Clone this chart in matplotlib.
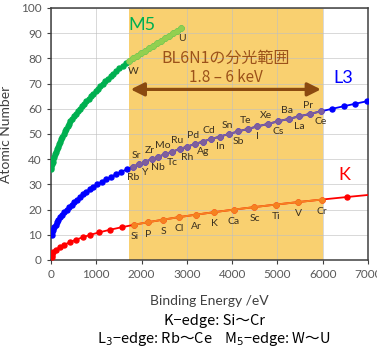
import numpy as np
import matplotlib
matplotlib.use("Agg")
import matplotlib.pyplot as plt

plt.rcParams['font.family'] = ['Lato', 'Noto Sans CJK JP', 'DejaVu Sans']

# K edge binding energies (eV), Z = 1..26
k_z = list(range(1, 27))
k_e = [13.6, 24.6, 54.7, 111.5, 188, 284.2, 409.9, 543.1, 696.7, 870.2,
       1070.8, 1303.0, 1559.6, 1839, 2145.5, 2472, 2822.4, 3205.9, 3608.4,
       4038.5, 4492, 4966, 5465, 5989, 6539, 7112]
k_labels = ["Si", "P", "S", "Cl", "Ar", "K", "Ca", "Sc", "Ti", "V", "Cr"]  # Z 14..24

# L3 edge binding energies (eV), Z = 10..64
l3_z = list(range(10, 65))
l3_e = [21.6, 30.65, 49.78, 72.72, 99.42, 135, 162.5, 200, 248.4, 294.6,
        346.2, 398.7, 453.8, 512.1, 574.1, 638.7, 706.8, 778.1, 852.7, 932.7,
        1021.8, 1116.4, 1217, 1323.6, 1433.9, 1550, 1678.4, 1804, 1940, 2080,
        2222.3, 2370.5, 2520.2, 2677, 2837.9, 3004.3, 3173.3, 3351.1, 3537.5,
        3730.1, 3928.8, 4132.2, 4341.4, 4557.1, 4786, 5011.9, 5247, 5483,
        5723, 5964, 6208, 6459, 6716, 6977, 7243]
l3_labels = ["Rb", "Sr", "Y", "Zr", "Nb", "Mo", "Tc", "Ru", "Rh", "Pd", "Ag",
             "Cd", "In", "Sn", "Sb", "Te", "I", "Xe", "Cs", "Ba", "La", "Pr", "Ce"]  # Z 37..59

# M5 curve, Z = 36..92
m5_z = list(range(36, 93))
m5_e = [0, 10, 25, 40, 55, 70, 85, 105, 125, 150, 170, 190, 220, 250, 280,
        310, 340, 370, 400, 430, 470, 510, 550, 590, 630, 680, 730, 780, 830,
        880, 930, 985, 1040, 1090, 1140, 1200, 1260, 1320, 1380, 1440, 1510,
        1580, 1650, 1720, 1810, 1900, 1990, 2080, 2170, 2250, 2330, 2420, 2510,
        2600, 2690, 2780, 2870]

fig = plt.figure(figsize=(3.77, 3.52), dpi=100)
ax = fig.add_axes([51/377, 92/352, 317/377, 252/352])

ax.axvspan(1720, 6000, color='#f9d070', lw=0, zorder=0)
ax.grid(True, color='#bfbfbf', lw=0.7, alpha=0.6, zorder=0.5)
ax.set_axisbelow(True)

ms = 3.6
lw = 1.3
# full series (outside range colour)
ax.plot(k_e, k_z, '-o', color='#ff0000', ms=ms, lw=lw, zorder=3)
ax.plot(l3_e, l3_z, '-o', color='#0000ff', ms=ms, lw=lw, zorder=3)
ax.plot(m5_e, m5_z, '-o', color='#00b050', ms=ms, lw=lw, zorder=3)
# within BL6N1 range
ax.plot(k_e[13:24], k_z[13:24], '-o', color='#f58220', ms=ms, lw=lw, zorder=4)
ax.plot(l3_e[27:50], l3_z[27:50], '-o', color='#7f5f9c', ms=ms, lw=lw, zorder=4)
ax.plot(m5_e[43:], m5_z[43:], '-o', color='#92d050', ms=ms, lw=lw, zorder=4)

lab_c = '#3a3020'
for i, name in enumerate(k_labels):
    ax.annotate(name, (k_e[13 + i], k_z[13 + i]), xytext=(0, -8.5),
                textcoords='offset points', ha='center', va='center',
                fontsize=7.5, color=lab_c, zorder=5)
for i, name in enumerate(l3_labels):
    if i % 2 == 0:
        off = (0, -7.5)
    else:
        off = (-1.5, 6)
    ax.annotate(name, (l3_e[27 + i], l3_z[27 + i]), xytext=off,
                textcoords='offset points', ha='center', va='center',
                fontsize=7.5, color=lab_c, zorder=5)
ax.annotate("W", (m5_e[43], m5_z[43]), xytext=(3, -7.5), textcoords='offset points',
            ha='center', va='center', fontsize=7.5, color=lab_c, zorder=5)
ax.annotate("U", (m5_e[-1], m5_z[-1]), xytext=(1, -7.5), textcoords='offset points',
            ha='center', va='center', fontsize=7.5, color=lab_c, zorder=5)

ax.text(2000, 93.3, "M5", color='#00b050', fontsize=13, ha='center', va='center', zorder=5)
ax.text(6460, 72.1, "L3", color='#0000ff', fontsize=13, ha='center', va='center', zorder=5)
ax.text(6480, 33.7, "K", color='#ff0000', fontsize=13, ha='center', va='center', zorder=5)

txt_c = '#9c521a'
ax.text(3850, 80.2, "BL6N1の分光範囲", color=txt_c, fontsize=11.5, ha='center',
        va='center', family=['Noto Sans CJK JP'], zorder=5)
ax.text(3870, 72.3, "1.8 – 6 keV", color=txt_c, fontsize=11, ha='center',
        va='center', family=['Noto Sans CJK JP'], zorder=5)
ax.annotate('', xy=(1760, 67.7), xytext=(5960, 67.7),
            arrowprops=dict(arrowstyle='<|-|>,head_length=0.8,head_width=0.4',
                            color='#8b4a10', lw=2.3, shrinkA=0, shrinkB=0), zorder=5)

ax.set_xlim(0, 7000)
ax.set_ylim(0, 100)
ax.set_xticks(np.arange(0, 7001, 1000))
ax.set_yticks(np.arange(0, 101, 10))
ax.tick_params(labelsize=8.5, labelcolor='#595959', color='#404040', length=3, width=0.8)
for s in ax.spines.values():
    s.set_color('#404040')
    s.set_linewidth(1.1)

ax.set_xlabel("Binding Energy /eV", fontsize=10, color='#404040')
ax.set_ylabel("Atomic Number", fontsize=10, color='#404040')
ax.xaxis.set_label_coords(0.5, -0.139)
ax.yaxis.set_label_coords(-0.123, 0.5)

fig.text(215/377, 1 - 320.5/352, "K−edge: Si〜Cr", ha='center', va='center',
         fontsize=10.5, family=['Noto Sans CJK JP'], color='#000000')
fig.text(214/377, 1 - 339/352, "L$_3$−edge: Rb〜Ce    M$_5$−edge: W〜U", ha='center',
         va='center', fontsize=10.5, family=['Noto Sans CJK JP'], color='#000000')

fig.savefig("out.png", dpi=100)
